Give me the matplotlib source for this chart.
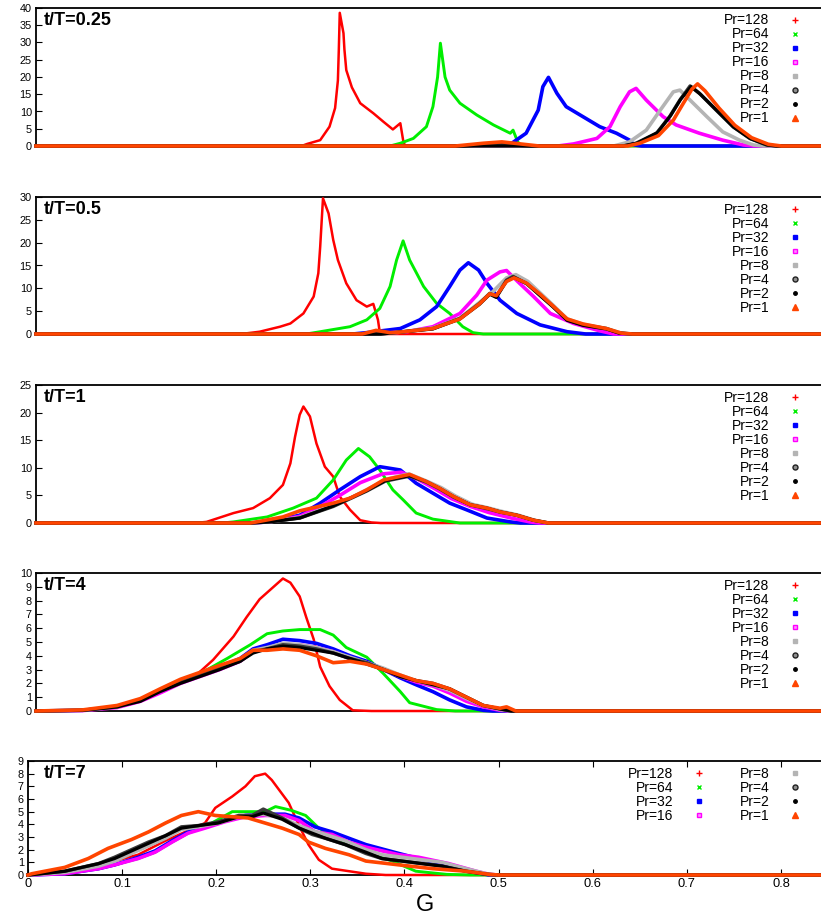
import numpy as np
import matplotlib.pyplot as plt
from matplotlib.lines import Line2D

plt.rcParams['font.family'] = ['Liberation Sans', 'DejaVu Sans']

# Prandtl numbers, drawing order = legend order
pr_labels = ['Pr=128', 'Pr=64', 'Pr=32', 'Pr=16', 'Pr=8', 'Pr=4', 'Pr=2', 'Pr=1']
pr_colors = ['#ff0000', '#00ee00', '#0000ff', '#ff00ff', '#b4b4b4', '#3a3a3a', '#000000', '#ff4500']
pr_markers = ['+', 'x', 's', 's', 's', 'o', '.', '^']

panel_titles = ['t/T=0.25', 't/T=0.5', 't/T=1', 't/T=4', 't/T=7']
panel_ymax = [40, 30, 25, 10, 9]
panel_ystep = [5, 5, 5, 1, 1]

# (G, pdf) readings, t/T = 0.25
t025_pr128 = [(0, 0), (0.285, 0), (0.291, 0.6), (0.305, 1.7), (0.315, 5.6), (0.321, 11), (0.324, 19), (0.325, 28),
              (0.326, 38.6), (0.330, 32.7), (0.331, 28), (0.333, 22), (0.339, 17), (0.348, 12.4), (0.362, 9.5),
              (0.373, 7), (0.383, 4.8), (0.391, 6.6), (0.394, 1.7), (0.396, 0), (0.85, 0)]
t025_pr64 = [(0, 0), (0.38, 0), (0.391, 0.8), (0.405, 2.2), (0.419, 5.6), (0.426, 11.4), (0.431, 20), (0.434, 29.8),
             (0.439, 20), (0.444, 16.2), (0.455, 12.4), (0.473, 9), (0.491, 6.1), (0.509, 3.7), (0.512, 4.6),
             (0.517, 1.2), (0.521, 0), (0.85, 0)]
t025_pr32 = [(0, 0), (0.50, 0), (0.509, 0.5), (0.526, 3.7), (0.539, 10.4), (0.544, 17.2), (0.550, 19.9),
             (0.559, 15.3), (0.569, 11.4), (0.587, 8.5), (0.605, 5.6), (0.623, 3.7), (0.637, 1.7), (0.642, 0.3),
             (0.65, 0), (0.85, 0)]
t025_pr16 = [(0, 0), (0.56, 0), (0.577, 0.6), (0.602, 2.2), (0.616, 5.6), (0.627, 11.4), (0.637, 15.7),
             (0.644, 16.7), (0.655, 13.3), (0.673, 8.5), (0.687, 6.1), (0.712, 3.7), (0.737, 1.7), (0.759, 0.3),
             (0.77, 0), (0.85, 0)]
t025_pr8 = [(0, 0), (0.62, 0), (0.637, 1.2), (0.655, 4.6), (0.670, 10.4), (0.684, 15.7), (0.691, 16.2),
            (0.702, 13.3), (0.720, 8.5), (0.737, 4.1), (0.755, 1.7), (0.770, 0.3), (0.78, 0), (0.85, 0)]
t025_pr4 = [(0, 0), (0.46, 0), (0.49, 0.6), (0.51, 0.4), (0.53, 0), (0.63, 0), (0.644, 0.8), (0.666, 3.7),
            (0.680, 8.5), (0.691, 13.3), (0.702, 17.4), (0.712, 15.3), (0.730, 10.4), (0.748, 5.6), (0.766, 2.2),
            (0.784, 0.3), (0.795, 0), (0.85, 0)]
t025_pr2 = [(0, 0), (0.63, 0), (0.645, 0.8), (0.667, 3.9), (0.681, 8.8), (0.692, 13.6), (0.703, 17.2),
            (0.713, 15.0), (0.731, 10.2), (0.749, 5.4), (0.767, 2.1), (0.785, 0.3), (0.795, 0), (0.85, 0)]
t025_pr1 = [(0, 0), (0.45, 0), (0.48, 0.8), (0.50, 1.2), (0.52, 0.6), (0.54, 0), (0.635, 0), (0.648, 0.8),
            (0.668, 3.0), (0.684, 7.5), (0.695, 12.5), (0.704, 16.5), (0.710, 18), (0.718, 16), (0.733, 11),
            (0.750, 6), (0.768, 2.4), (0.786, 0.5), (0.80, 0), (0.85, 0)]

# t/T = 0.5
t05_pr128 = [(0, 0), (0.22, 0), (0.240, 0.5), (0.262, 1.6), (0.273, 2.3), (0.287, 4.5), (0.298, 8.2), (0.303, 13.3),
             (0.305, 19.1), (0.308, 29.7), (0.314, 26.4), (0.319, 20.6), (0.324, 16.2), (0.333, 11.1), (0.344, 7.4),
             (0.355, 6.0), (0.362, 6.6), (0.367, 3.1), (0.369, 0.3), (0.372, 0), (0.85, 0)]
t05_pr64 = [(0, 0), (0.29, 0), (0.305, 0.5), (0.337, 1.6), (0.355, 3.1), (0.369, 5.6), (0.380, 10.4), (0.387, 16.2),
            (0.394, 20.4), (0.401, 16.2), (0.416, 10.4), (0.430, 6.7), (0.444, 4.5), (0.458, 1.6), (0.469, 0.3),
            (0.48, 0), (0.85, 0)]
t05_pr32 = [(0, 0), (0.34, 0), (0.355, 0.3), (0.391, 1.2), (0.412, 3.1), (0.430, 6.0), (0.444, 10.4), (0.455, 14),
            (0.464, 15.6), (0.475, 14), (0.484, 11.1), (0.498, 7.4), (0.516, 4.5), (0.541, 2.0), (0.570, 0.5),
            (0.59, 0), (0.85, 0)]
t05_pr16 = [(0, 0), (0.36, 0), (0.398, 0.5), (0.426, 1.6), (0.455, 4.5), (0.473, 8.5), (0.484, 11.8), (0.498, 13.6),
            (0.505, 13.9), (0.519, 11.1), (0.534, 8.2), (0.552, 4.5), (0.577, 2.3), (0.605, 0.7), (0.62, 0), (0.85, 0)]
t05_pr8 = [(0, 0), (0.37, 0), (0.39, 0.4), (0.426, 1.3), (0.455, 3.5), (0.476, 6.9), (0.490, 9.2), (0.505, 12.3),
           (0.515, 13.0), (0.528, 11.5), (0.541, 9.0), (0.555, 6.3), (0.570, 3.3), (0.587, 2.1), (0.612, 1.2),
           (0.628, 0.2), (0.64, 0), (0.85, 0)]
t05_pr4 = [(0, 0), (0.37, 0), (0.39, 0.4), (0.426, 1.2), (0.455, 3.4), (0.476, 6.7), (0.487, 8.9), (0.494, 8.2),
           (0.505, 11.8), (0.512, 12.6), (0.526, 11.1), (0.541, 8.5), (0.555, 6.0), (0.570, 3.1), (0.587, 2.0),
           (0.612, 1.2), (0.626, 0.2), (0.64, 0), (0.85, 0)]
t05_pr2 = [(0, 0), (0.37, 0), (0.39, 0.4), (0.426, 1.1), (0.455, 3.3), (0.476, 6.5), (0.487, 8.7), (0.494, 8.0),
           (0.505, 11.6), (0.513, 12.4), (0.527, 11.0), (0.541, 8.4), (0.555, 5.9), (0.570, 3.0), (0.587, 1.9),
           (0.612, 1.1), (0.626, 0.2), (0.64, 0), (0.85, 0)]
t05_pr1 = [(0, 0), (0.35, 0), (0.365, 0.8), (0.38, 0.3), (0.39, 0.4), (0.426, 1.2), (0.455, 3.3), (0.476, 6.6),
           (0.487, 8.8), (0.494, 8.4), (0.505, 11.5), (0.513, 12.3), (0.526, 11.2), (0.541, 8.7), (0.555, 6.1),
           (0.570, 3.3), (0.587, 2.2), (0.612, 1.2), (0.628, 0.2), (0.64, 0), (0.85, 0)]

# t/T = 1
t1_pr128 = [(0, 0), (0.17, 0), (0.183, 0.2), (0.212, 1.8), (0.233, 2.7), (0.251, 4.5), (0.265, 6.9), (0.273, 10.8),
            (0.278, 15.6), (0.283, 19.6), (0.287, 21.1), (0.294, 19.3), (0.301, 14.4), (0.310, 10.2), (0.319, 8.4),
            (0.326, 4.8), (0.337, 2.4), (0.348, 0.5), (0.36, 0.1), (0.37, 0), (0.85, 0)]
t1_pr64 = [(0, 0), (0.20, 0), (0.212, 0.2), (0.248, 1.1), (0.276, 2.7), (0.301, 4.5), (0.319, 7.8), (0.333, 11.4),
           (0.346, 13.5), (0.358, 12.0), (0.369, 9.6), (0.383, 6.0), (0.394, 4.2), (0.408, 1.8), (0.426, 0.7),
           (0.455, 0), (0.85, 0)]
t1_pr32 = [(0, 0), (0.23, 0), (0.248, 0.2), (0.283, 1.4), (0.305, 3.6), (0.326, 6.0), (0.348, 8.4), (0.369, 10.2),
           (0.391, 9.6), (0.408, 7.2), (0.426, 5.4), (0.444, 3.6), (0.462, 2.4), (0.484, 0.9), (0.509, 0.2),
           (0.52, 0), (0.85, 0)]
t1_pr16 = [(0, 0), (0.23, 0), (0.25, 0.2), (0.283, 1.2), (0.305, 3.0), (0.326, 5.0), (0.348, 7.3), (0.372, 8.9),
           (0.392, 9.2), (0.410, 7.9), (0.428, 6.2), (0.446, 4.4), (0.466, 3.0), (0.486, 1.9), (0.51, 0.9),
           (0.53, 0.2), (0.54, 0), (0.85, 0)]
t1_pr8 = [(0, 0), (0.23, 0), (0.25, 0.2), (0.283, 1.0), (0.319, 3.2), (0.340, 4.7), (0.358, 6.3), (0.378, 8.0),
          (0.400, 8.9), (0.419, 7.6), (0.435, 6.4), (0.450, 4.9), (0.468, 3.4), (0.486, 2.7), (0.500, 2.1),
          (0.518, 1.4), (0.535, 0.5), (0.55, 0), (0.85, 0)]
t1_pr4 = [(0, 0), (0.23, 0), (0.25, 0.2), (0.283, 0.9), (0.319, 3.0), (0.337, 4.4), (0.355, 5.8), (0.375, 7.6),
          (0.401, 8.5), (0.419, 7.4), (0.433, 6.2), (0.448, 4.7), (0.466, 3.3), (0.484, 2.6), (0.498, 2.0),
          (0.516, 1.4), (0.534, 0.5), (0.55, 0), (0.85, 0)]
t1_pr2 = [(0, 0), (0.23, 0), (0.25, 0.2), (0.283, 0.9), (0.319, 3.1), (0.337, 4.5), (0.355, 5.9), (0.375, 7.7),
          (0.401, 8.6), (0.419, 7.5), (0.433, 6.3), (0.448, 4.8), (0.466, 3.3), (0.484, 2.7), (0.498, 2.0),
          (0.516, 1.4), (0.534, 0.5), (0.55, 0), (0.85, 0)]
t1_pr1 = [(0, 0), (0.23, 0), (0.24, 0.3), (0.265, 1.1), (0.283, 2.2), (0.319, 3.6), (0.337, 4.5), (0.355, 6.0),
          (0.373, 7.8), (0.401, 8.8), (0.419, 7.5), (0.433, 6.3), (0.448, 4.8), (0.466, 3.3), (0.484, 2.7),
          (0.498, 2.0), (0.516, 1.4), (0.534, 0.5), (0.55, 0), (0.85, 0)]

# t/T = 4
t4_pr128 = [(0, 0), (0.05, 0.05), (0.087, 0.3), (0.112, 0.8), (0.133, 1.5), (0.155, 2.1), (0.172, 2.6), (0.190, 3.7),
            (0.212, 5.4), (0.226, 6.8), (0.240, 8.1), (0.255, 9.0), (0.265, 9.6), (0.273, 9.3), (0.283, 8.3),
            (0.290, 6.8), (0.298, 5.2), (0.305, 3.2), (0.315, 1.8), (0.326, 0.8), (0.340, 0.05), (0.36, 0), (0.85, 0)]
t4_pr64 = [(0, 0), (0.05, 0.05), (0.087, 0.3), (0.112, 0.8), (0.140, 1.6), (0.176, 2.7), (0.205, 3.8), (0.230, 4.8),
           (0.248, 5.6), (0.265, 5.8), (0.283, 5.9), (0.305, 5.9), (0.319, 5.5), (0.333, 4.6), (0.355, 3.9),
           (0.373, 2.7), (0.391, 1.4), (0.401, 0.6), (0.43, 0.1), (0.45, 0), (0.85, 0)]
t4_pr32 = [(0, 0), (0.05, 0.05), (0.087, 0.3), (0.112, 0.8), (0.133, 1.5), (0.155, 2.2), (0.176, 2.7), (0.197, 3.2),
           (0.219, 3.8), (0.233, 4.5), (0.248, 4.8), (0.265, 5.2), (0.283, 5.1), (0.301, 4.9), (0.319, 4.5),
           (0.337, 4.0), (0.355, 3.6), (0.373, 3.0), (0.391, 2.4), (0.408, 1.9), (0.426, 1.4), (0.444, 0.8),
           (0.462, 0.3), (0.480, 0.05), (0.49, 0), (0.85, 0)]
t4_pr16 = [(0, 0), (0.05, 0.03), (0.087, 0.25), (0.112, 0.7), (0.133, 1.3), (0.155, 2.0), (0.176, 2.5), (0.197, 3.0),
           (0.219, 3.6), (0.233, 4.3), (0.248, 4.5), (0.265, 4.8), (0.283, 4.8), (0.301, 4.6), (0.319, 4.3),
           (0.337, 3.8), (0.355, 3.5), (0.373, 3.0), (0.391, 2.5), (0.408, 2.1), (0.426, 1.8), (0.444, 1.3),
           (0.462, 0.7), (0.480, 0.3), (0.498, 0.05), (0.51, 0), (0.85, 0)]
t4_pr8 = [(0, 0), (0.05, 0.05), (0.087, 0.3), (0.112, 0.8), (0.133, 1.5), (0.155, 2.1), (0.176, 2.6), (0.197, 3.1),
          (0.219, 3.7), (0.233, 4.4), (0.248, 4.6), (0.265, 4.9), (0.283, 4.8), (0.301, 4.6), (0.319, 4.3),
          (0.337, 3.9), (0.355, 3.5), (0.373, 3.1), (0.391, 2.6), (0.408, 2.2), (0.426, 1.9), (0.444, 1.5),
          (0.462, 0.9), (0.480, 0.4), (0.498, 0.1), (0.51, 0), (0.85, 0)]
t4_pr4 = [(0, 0), (0.05, 0.05), (0.087, 0.3), (0.112, 0.8), (0.133, 1.5), (0.155, 2.1), (0.176, 2.6), (0.197, 3.1),
          (0.219, 3.6), (0.233, 4.3), (0.248, 4.5), (0.265, 4.8), (0.283, 4.7), (0.301, 4.5), (0.319, 4.2),
          (0.337, 3.8), (0.355, 3.5), (0.373, 3.0), (0.391, 2.5), (0.408, 2.2), (0.426, 2.0), (0.444, 1.6),
          (0.462, 1.0), (0.480, 0.4), (0.498, 0.15), (0.51, 0), (0.85, 0)]
t4_pr2 = [(0, 0), (0.05, 0.05), (0.087, 0.3), (0.112, 0.7), (0.133, 1.4), (0.155, 2.0), (0.176, 2.5), (0.197, 3.0),
          (0.219, 3.6), (0.233, 4.2), (0.248, 4.5), (0.265, 4.7), (0.283, 4.6), (0.301, 4.4), (0.319, 4.2),
          (0.337, 3.8), (0.355, 3.4), (0.373, 3.0), (0.391, 2.5), (0.408, 2.2), (0.426, 1.9), (0.444, 1.6),
          (0.462, 1.0), (0.480, 0.4), (0.498, 0.15), (0.51, 0), (0.85, 0)]
t4_pr1 = [(0, 0), (0.05, 0.08), (0.087, 0.4), (0.112, 0.9), (0.133, 1.6), (0.155, 2.3), (0.176, 2.8), (0.197, 3.3),
          (0.219, 3.8), (0.233, 4.4), (0.248, 4.4), (0.265, 4.5), (0.283, 4.4), (0.301, 4.0), (0.319, 3.5),
          (0.337, 3.6), (0.355, 3.4), (0.373, 3.0), (0.391, 2.6), (0.408, 2.2), (0.426, 2.0), (0.444, 1.6),
          (0.462, 1.0), (0.480, 0.4), (0.498, 0.2), (0.505, 0.3), (0.515, 0), (0.85, 0)]

# t/T = 7
t7_pr128 = [(0, 0), (0.039, 0.2), (0.075, 0.7), (0.092, 1.1), (0.117, 1.6), (0.146, 2.7), (0.170, 3.5), (0.188, 4.1),
            (0.199, 5.3), (0.217, 6.2), (0.231, 7.0), (0.241, 7.8), (0.252, 8.0), (0.259, 7.5), (0.266, 6.8),
            (0.277, 5.7), (0.288, 3.9), (0.298, 2.4), (0.309, 1.2), (0.323, 0.5), (0.359, 0.1), (0.38, 0), (0.85, 0)]
t7_pr64 = [(0, 0), (0.039, 0.1), (0.075, 0.5), (0.092, 0.8), (0.117, 1.3), (0.135, 1.8), (0.153, 2.6), (0.170, 3.3),
           (0.188, 3.8), (0.217, 5.0), (0.252, 5.0), (0.263, 5.4), (0.280, 5.1), (0.295, 4.7), (0.309, 3.7),
           (0.337, 2.6), (0.359, 1.8), (0.387, 1.1), (0.412, 0.3), (0.445, 0.05), (0.47, 0), (0.85, 0)]
t7_pr32 = [(0, 0), (0.039, 0.1), (0.075, 0.5), (0.092, 0.8), (0.117, 1.4), (0.135, 1.9), (0.153, 2.7), (0.170, 3.4),
           (0.188, 3.8), (0.209, 4.3), (0.231, 4.7), (0.252, 4.8), (0.273, 4.8), (0.288, 4.5), (0.305, 3.8),
           (0.323, 3.4), (0.341, 2.9), (0.359, 2.4), (0.394, 1.7), (0.415, 1.3), (0.447, 0.7), (0.476, 0.2),
           (0.49, 0), (0.85, 0)]
t7_pr16 = [(0, 0), (0.039, 0.1), (0.075, 0.5), (0.092, 0.8), (0.117, 1.3), (0.135, 1.8), (0.153, 2.6), (0.170, 3.3),
           (0.188, 3.7), (0.209, 4.2), (0.231, 4.6), (0.252, 4.7), (0.273, 4.7), (0.288, 4.3), (0.305, 3.4),
           (0.323, 3.2), (0.341, 2.6), (0.359, 2.2), (0.394, 1.6), (0.415, 1.4), (0.447, 0.9), (0.476, 0.3),
           (0.49, 0.05), (0.50, 0), (0.85, 0)]
t7_pr8 = [(0, 0), (0.039, 0.2), (0.075, 0.7), (0.092, 1.1), (0.110, 1.7), (0.128, 2.3), (0.146, 2.9), (0.163, 3.6),
          (0.181, 3.8), (0.202, 4.1), (0.224, 4.6), (0.250, 4.8), (0.270, 4.5), (0.288, 3.9), (0.302, 3.5),
          (0.316, 3.2), (0.337, 2.7), (0.359, 2.0), (0.376, 1.6), (0.408, 1.3), (0.440, 1.0), (0.465, 0.5),
          (0.49, 0.05), (0.50, 0), (0.85, 0)]
t7_pr4 = [(0, 0), (0.039, 0.3), (0.075, 0.9), (0.092, 1.4), (0.110, 2.0), (0.128, 2.6), (0.146, 3.1), (0.163, 3.8),
          (0.181, 3.9), (0.202, 4.2), (0.224, 4.7), (0.238, 4.7), (0.250, 5.2), (0.270, 4.5), (0.288, 3.7),
          (0.302, 3.2), (0.316, 2.9), (0.337, 2.4), (0.359, 1.7), (0.376, 1.3), (0.408, 1.0), (0.440, 0.7),
          (0.465, 0.3), (0.488, 0.05), (0.50, 0), (0.85, 0)]
t7_pr2 = [(0, 0), (0.039, 0.3), (0.075, 0.9), (0.092, 1.3), (0.110, 1.9), (0.128, 2.5), (0.146, 3.1), (0.163, 3.7),
          (0.181, 3.9), (0.202, 4.1), (0.224, 4.6), (0.238, 4.6), (0.250, 4.9), (0.270, 4.4), (0.288, 3.7),
          (0.302, 3.3), (0.316, 2.9), (0.337, 2.4), (0.359, 1.8), (0.376, 1.3), (0.408, 1.0), (0.440, 0.7),
          (0.465, 0.3), (0.488, 0.05), (0.50, 0), (0.85, 0)]
t7_pr1 = [(0, 0), (0.004, 0.1), (0.039, 0.6), (0.064, 1.3), (0.085, 2.1), (0.110, 2.8), (0.128, 3.4), (0.146, 4.1),
          (0.163, 4.7), (0.181, 5.0), (0.199, 4.7), (0.217, 4.6), (0.234, 4.5), (0.252, 4.1), (0.270, 3.7),
          (0.288, 3.2), (0.298, 2.6), (0.316, 2.1), (0.341, 1.6), (0.359, 1.1), (0.394, 0.8), (0.430, 0.5),
          (0.465, 0.3), (0.49, 0.05), (0.50, 0), (0.85, 0)]

panel_curves = [
    [t025_pr128, t025_pr64, t025_pr32, t025_pr16, t025_pr8, t025_pr4, t025_pr2, t025_pr1],
    [t05_pr128, t05_pr64, t05_pr32, t05_pr16, t05_pr8, t05_pr4, t05_pr2, t05_pr1],
    [t1_pr128, t1_pr64, t1_pr32, t1_pr16, t1_pr8, t1_pr4, t1_pr2, t1_pr1],
    [t4_pr128, t4_pr64, t4_pr32, t4_pr16, t4_pr8, t4_pr4, t4_pr2, t4_pr1],
    [t7_pr128, t7_pr64, t7_pr32, t7_pr16, t7_pr8, t7_pr4, t7_pr2, t7_pr1],
]

W, H = 821, 922
fig = plt.figure(figsize=(W / 100, H / 100), dpi=100)

# panel frames in pixels: (left, top, bottom); right edge runs past the picture
frames = [(36, 8, 146), (36, 197, 334), (36, 385, 523), (36, 573, 711), (28, 761, 875)]
right_px = 828
line_widths = [1.8, 2.1, 2.6, 2.6, 2.6, 2.5, 2.3, 2.6]

marker_kw = {'+': dict(ms=4, mew=1.0), 'x': dict(ms=3.5, mew=1.0), 's': dict(ms=3.2),
             'o': dict(ms=3.6), '.': dict(ms=5), '^': dict(ms=4)}

for k, (left, top, bottom) in enumerate(frames):
    ax = fig.add_axes([left / W, (H - bottom) / H, (right_px - left) / W, (bottom - top) / H])
    for i, curve in enumerate(panel_curves[k]):
        g = np.array([p[0] for p in curve])
        v = np.array([p[1] for p in curve])
        ax.plot(g, v, color=pr_colors[i], lw=line_widths[i], solid_joinstyle='round', clip_on=False, zorder=2 + i)

    ax.set_xlim(0, 0.85)
    ax.set_ylim(0, panel_ymax[k])
    ax.set_yticks(np.arange(0, panel_ymax[k] + 0.1, panel_ystep[k]))
    ax.tick_params(axis='y', direction='in', length=4, labelsize=7.8, pad=3)
    if k == 4:
        ax.set_xticks(np.arange(0, 0.81, 0.1))
        ax.set_xticklabels(['0'] + ['%.1f' % x for x in np.arange(0.1, 0.81, 0.1)])
        ax.tick_params(axis='x', direction='in', length=4, labelsize=9.3, top=True, pad=2)
    else:
        ax.set_xticks([])
    for s in ax.spines.values():
        s.set_linewidth(1.3)
        s.set_zorder(1)

    ax.text((44 - left) / (right_px - left), 1 - 12.5 / (bottom - top), panel_titles[k], transform=ax.transAxes,
            fontsize=13, fontweight='bold', va='center', ha='left', zorder=20)

    handles = []
    for i in range(8):
        m = pr_markers[i]
        kw = dict(marker_kw[m])
        if i == 3:
            kw.update(mfc='#ff90ff', mec='#ff00ff')
        elif i == 5:
            kw.update(mfc='#909090', mec='#202020')
        else:
            kw.update(mfc=pr_colors[i], mec=pr_colors[i])
        handles.append(Line2D([], [], ls='none', marker=m, color=pr_colors[i], **kw))
    ncol = 2 if k == 4 else 1
    anchor_x = (802 - left) / (right_px - left)
    anchor_y = 1 - 5.5 / (bottom - top)
    leg = ax.legend(handles, pr_labels, loc='upper right', bbox_to_anchor=(anchor_x, anchor_y), ncol=ncol,
                    markerfirst=False, frameon=False, fontsize=10, handlelength=1.0, handletextpad=1.35,
                    labelspacing=0.0, borderpad=0, borderaxespad=0, columnspacing=2.4)
    leg.set_zorder(30)

fig.text(425 / W, 1 - 905 / H, 'G', fontsize=17, ha='center', va='center')

fig.savefig('out.png', dpi=100)
